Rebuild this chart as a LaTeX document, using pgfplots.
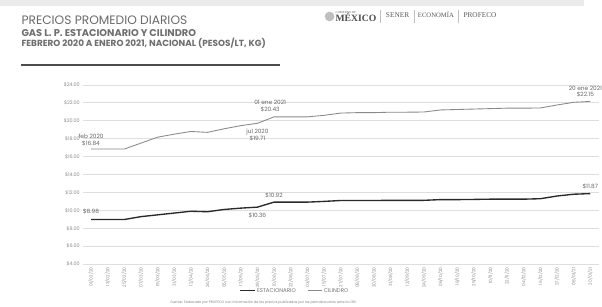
\documentclass[border=0pt]{standalone}
\usepackage{pgfplots}
\pgfplotsset{compat=1.18}
\usepackage{fontspec}
\setmainfont{Poppins}
\newfontfamily\seriffont{Liberation Serif}
\definecolor{titlegray}{HTML}{6A6A6A}
\definecolor{subgray}{HTML}{6E6E6E}
\definecolor{cilgray}{HTML}{8A8A8A}
\definecolor{estblack}{HTML}{2A2A2A}

\pgfplotstableread{
x y
0 16.84
1 16.84
2 16.84
3 17.50
4 18.16
5 18.50
6 18.80
7 18.70
8 19.10
9 19.45
10 19.71
11 20.43
12 20.43
13 20.43
14 20.60
15 20.85
16 20.90
17 20.90
18 20.95
19 20.95
20 20.97
21 21.20
22 21.25
23 21.30
24 21.35
25 21.40
26 21.40
27 21.42
28 21.75
29 22.05
30 22.15
}\cilindro

\pgfplotstableread{
x y
0 8.98
1 8.98
2 8.98
3 9.30
4 9.50
5 9.70
6 9.90
7 9.85
8 10.10
9 10.25
10 10.36
11 10.92
12 10.92
13 10.92
14 11.00
15 11.10
16 11.10
17 11.10
18 11.12
19 11.12
20 11.12
21 11.20
22 11.20
23 11.22
24 11.25
25 11.25
26 11.25
27 11.30
28 11.60
29 11.80
30 11.87
}\estacionario

\begin{document}
\begin{tikzpicture}[x=1pt,y=1pt]
\fill[white] (0,0) rectangle (602,316);
\fill[black!8] (0,310) rectangle (602,316);
% titles
\node[anchor=base west,inner sep=0,text=titlegray] at (22,291) {\resizebox{171pt}{!}{PRECIOS PROMEDIO DIARIOS}};
\node[anchor=base west,inner sep=0,text=subgray] at (22,278) {\resizebox{180pt}{!}{\bfseries GAS L. P. ESTACIONARIO Y CILINDRO}};
\node[anchor=base west,inner sep=0,text=subgray] at (22,268) {\resizebox{252pt}{!}{\bfseries FEBRERO 2020 A ENERO 2021, NACIONAL (PESOS/LT, KG)}};
\draw[black!70,line width=1.2pt] (22,249) -- (289,249);
% logos
\fill[black!25] (340,299) circle (5);
\node[anchor=base west,inner sep=0,text=black!60] at (346,302) {\resizebox{21pt}{!}{\seriffont GOBIERNO DE}};
\node[anchor=base west,inner sep=0,text=black!70] at (346,294) {\resizebox{42pt}{!}{\seriffont\bfseries MÉXICO}};
\draw[black!25,line width=0.6pt] (392,292) -- (392,306);
\draw[black!25,line width=0.6pt] (427,292) -- (427,306);
\draw[black!25,line width=0.6pt] (473,292) -- (473,306);
\node[anchor=base west,inner sep=0,text=black!65] at (398,298) {\resizebox{24pt}{!}{\seriffont SENER}};
\node[anchor=base west,inner sep=0,text=black!65] at (431,298) {\resizebox{37pt}{!}{\seriffont ECONOMÍA}};
\node[anchor=base west,inner sep=0,text=black!65] at (478,298) {\resizebox{34pt}{!}{\seriffont PROFECO}};

\begin{axis}[
  at={(50,47)}, anchor=south west,
  width=532pt, height=185pt, scale only axis,
  xmin=-0.47, xmax=30.52, ymin=4, ymax=24,
  ytick={4,6,...,24},
  xtick={0,...,30},
  xticklabels={01/02/20,13/02/20,25/02/20,07/03/20,19/03/20,31/03/20,12/04/20,24/04/20,05/05/20,17/05/20,29/05/20,10/06/20,22/06/20,03/07/20,15/07/20,27/07/20,08/08/20,20/08/20,31/08/20,12/09/20,24/09/20,06/10/20,18/10/20,29/10/20,10/11/20,22/11/20,04/12/20,16/12/20,27/12/20,08/01/21,20/01/21},
  /pgf/number format/assume math mode=true,
  yticklabel={\$\pgfmathprintnumber[fixed,fixed zerofill,precision=2]{\tick}},
  axis line style={draw=none},
  major tick length=0pt,
  ymajorgrids, grid style={black!13,line width=0.6pt},
  y tick label style={font=\fontsize{5}{6}\selectfont,text=black!45},
  x tick label style={font=\fontsize{4.5}{5}\selectfont,text=black!45,rotate=90,anchor=east},
  clip=false,
]
\addplot[estblack,line width=1.4pt] table[x=x,y=y] {\estacionario};
\addplot[cilgray,line width=0.9pt] table[x=x,y=y] {\cilindro};

\tikzset{ann/.style={font=\fontsize{6}{7}\selectfont,text=black!60,align=center,inner sep=0pt}}
\node[ann,anchor=south,yshift=3pt] at (axis cs:0,16.84) {feb 2020\\\$16.84};
\node[ann,anchor=north,yshift=-6pt] at (axis cs:10,19.71) {jul 2020\\\$19.71};
\node[ann,anchor=south,yshift=5pt,xshift=-4pt] at (axis cs:11,20.43) {01 ene 2021\\\$20.43};
\node[ann,anchor=south,yshift=4pt,xshift=-5pt] at (axis cs:30,22.15) {20 ene 2021\\\$22.15};
\node[ann,anchor=south,yshift=5pt] at (axis cs:0,8.98) {\$8.98};
\node[ann,anchor=north,yshift=-6pt] at (axis cs:10,10.36) {\$10.36};
\node[ann,anchor=south,yshift=4pt] at (axis cs:11,10.92) {\$10.92};
\node[ann,anchor=south,yshift=5pt] at (axis cs:30,11.87) {\$11.87};
\end{axis}
% legend
\draw[estblack,line width=1.4pt] (248,16) -- (263,16);
\node[anchor=west,inner sep=0,text=black!55,font=\fontsize{5.6}{6}\selectfont] at (265,16) {ESTACIONARIO};
\draw[cilgray,line width=0.9pt] (318,16) -- (332,16);
\node[anchor=west,inner sep=0,text=black!55,font=\fontsize{5.6}{6}\selectfont] at (334,16) {CILINDRO};
\node[anchor=base,inner sep=0,text=black!50,font=\fontsize{3.5}{4}\selectfont] at (272,3) {Fuente: Elaborado por PROFECO con información de los precios publicados por los permisionarios ante la CRE.};
\end{tikzpicture}
\end{document}
